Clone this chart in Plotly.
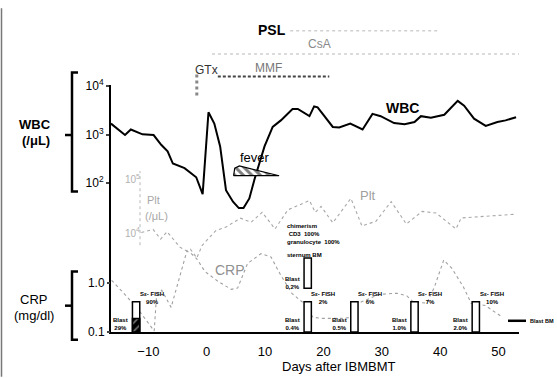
import plotly.graph_objects as go

# ---------------- data ----------------
wbc_days = [-16.4, -14.0, -13.0, -11.0, -9.1, -7.8, -6.7, -5.8, -3.8, -1.8, -0.7, 0.3, 1.3, 2.3, 3.3,
            4.5, 5.5, 6.3, 7.3, 8.2, 9.9, 11.3, 12.7, 14.7, 15.6, 17.6, 18.4, 19.0, 21.6, 22.7, 24.6,
            26.7, 28.4, 29.8, 32.1, 33.9, 35.6, 36.7, 38.4, 40.7, 43.0, 44.1, 45.8, 47.8, 49.8, 51.2, 53.0]
wbc_vals = [1675, 977, 1270, 1010, 977, 617, 453, 254, 204, 133, 60, 2860, 1675, 570, 72,
            42, 31, 31, 49, 123, 570, 1430, 1950, 3340, 3340, 2380, 3770, 3600, 1430, 1390, 1675,
            1270, 2650, 2380, 1720, 1620, 1800, 2380, 2210, 2540, 4900, 3890, 2110, 1500, 1800, 1950, 2270]

plt_days = [-11.2, -9.2, -7.9, -6.8, -4.6, -3.5, -2.8, -1.7, -0.8, 1.5, 3.3, 5.8, 7.6, 9.5, 11.7, 13.9,
            17.6, 18.6, 19.6, 21.6, 24.7, 26.6, 29.0, 31.6, 34.2, 36.9, 39.3, 42.7, 43.6, 47.4, 52.7]
plt_vals = [10200, 11700, 7700, 10600, 5420, 4640, 4980, 3400, 5820, 10970, 13000, 19000, 15900, 24500,
            11900, 27300, 40800, 24500, 31600, 15600, 44800, 13550, 16700, 39000, 14750, 25500, 23800,
            11900, 19200, 20700, 22500]

crp_days = [-16.3, -13.6, -11.4, -9.0, -8.6, -7.7, -6.1, -4.1, -3.4, -2.6, -1.7, -0.3, 1.9, 4.2, 5.3,
            7.0, 9.3, 11.0, 12.7, 14.6, 16.6, 18.2, 19.9, 23.3, 24.7, 25.7, 29.5, 32.6, 34.3, 35.4,
            37.7, 39.0, 40.6, 42.0, 44.0, 45.3, 47.7, 50.7]
crp_vals = [1.15, 0.52, 0.255, 0.105, 0.55, 0.72, 0.32, 2.5, 4.57, 4.0, 3.16, 1.74, 1.1, 0.75, 0.8,
            2.55, 4.04, 3.47, 1.45, 0.62, 0.39, 0.2, 0.19, 0.19, 0.2, 0.375, 0.59, 0.625, 0.55, 0.41,
            0.39, 0.83, 2.98, 2.02, 0.83, 0.39, 0.35, 0.2]

# chimerism boxes (height 100 = full box)
bar_days = [-12.1, 17.3, 25.3, 35.6, 46.1]
bar_box = [100, 100, 100, 100, 100]
fish_labels = ["90%", "2%", "6%", "7%", "10%"]
blast_labels = ["29%", "0.4%", "0.5%", "1.0%", "2.0%"]
blast_fill = [45]          # hatched part of first box
sternum_day = [17.3]
sternum_base = [145]
sternum_box = [100]
sternum_blast = "0.2%"

fever_x = [4.6, 4.8, 5.6, 12.4, 4.6]
fever_y = [143, 205, 227, 143, 143]

x_ticks = [-10, 0, 10, 20, 30, 40, 50]
gtx_day = -1.7
mmf_days = [1.9, 21.0]
csa_days = [0.9, 53.5]
psl_days = [14.3, 40.0]

# ---------------- geometry helpers ----------------
W, H = 557, 378
ML, MR, MT, MB = 111, 38, 10, 46
PW = W - ML - MR
PH = H - MT - MB
X0, X1 = -16.4, 53.5
FONT = "Arial, Liberation Sans, sans-serif"


def fx(px):
    return (px - ML) / PW


def fy(py):
    return (H - MB - py) / PH


def dx(day):
    return (day - X0) / (X1 - X0)


fig = go.Figure()

# WBC
fig.add_trace(go.Scatter(x=wbc_days, y=wbc_vals, mode="lines", xaxis="x", yaxis="y",
                         line=dict(color="black", width=2), showlegend=False))
# fever wedge
fig.add_trace(go.Scatter(x=fever_x, y=fever_y, mode="lines", fill="toself", xaxis="x", yaxis="y",
                         fillcolor="white", line=dict(color="black", width=1.2),
                         fillpattern=dict(shape="\\", fgcolor="black", bgcolor="white", size=6, solidity=0.5),
                         showlegend=False))
# Plt
fig.add_trace(go.Scatter(x=plt_days, y=plt_vals, mode="lines", xaxis="x", yaxis="y3",
                         line=dict(color="#a8a8a8", width=1.1, dash="dot"), showlegend=False))
# CRP
fig.add_trace(go.Scatter(x=crp_days, y=crp_vals, mode="lines", xaxis="x", yaxis="y2",
                         line=dict(color="#a0a0a0", width=1.1, dash="dot"), showlegend=False))
# boxes
fig.add_trace(go.Bar(x=bar_days, y=bar_box, width=1.25, xaxis="x", yaxis="y4",
                     marker=dict(color="white", line=dict(color="black", width=1.5)), showlegend=False))
fig.add_trace(go.Bar(x=bar_days[:1], y=blast_fill, width=1.25, xaxis="x", yaxis="y4",
                     marker=dict(color="black", line=dict(color="black", width=1.5),
                                 pattern=dict(shape="/", fgcolor="white", bgcolor="black", size=6, solidity=0.25)),
                     showlegend=False))
fig.add_trace(go.Bar(x=sternum_day, y=sternum_box, base=sternum_base, width=1.25, xaxis="x", yaxis="y4",
                     marker=dict(color="white", line=dict(color="black", width=1.5)), showlegend=False))

ann = []


def text(x, y, s, size=12, color="black", bold=False, xref="paper", yref="paper", xanchor="center",
         yanchor="middle", align="center"):
    if bold:
        s = "<b>" + s + "</b>"
    ann.append(dict(x=x, y=y, xref=xref, yref=yref, text=s, showarrow=False, xanchor=xanchor,
                    yanchor=yanchor, align=align, font=dict(family=FONT, size=size, color=color)))


# left labels
text(fx(35), fy(119), "WBC", 13, bold=True)
text(fx(36), fy(136), "(/μL)", 13, bold=True)
text(fx(33), fy(299), "CRP", 13)
text(fx(34), fy(315), "(mg/dl)", 13)
# plt axis label
text(fx(153), fy(197), "Plt", 11, "#a8a8a8")
text(fx(156), fy(213), "(/μL)", 11, "#a8a8a8")
# inline labels
text(dx(33.6), fy(102), "WBC", 14, bold=True)
text(dx(27.6), fy(192), "Plt", 13, "#a0a0a0")
text(dx(4.0), fy(268), "CRP", 14, "#909090")
text(dx(8.3), fy(153), "fever", 13)
# treatments
text(fx(271.5), fy(22), "PSL", 14, bold=True)
text(fx(319.5), fy(36.5), "CsA", 12, "#8a8a8a")
text(fx(206), fy(63), "GTx", 12, "#333333")
text(fx(268), fy(61), "MMF", 12, "#777777")
# axis title
text(fx(338.5), fy(367), "Days after IBMBMT", 13)

# box labels
SMALL = 6
for d, f, b in zip(bar_days, fish_labels, blast_labels):
    text(d + 0.3, 113, "Sε- FISH<br>" + f, SMALL, bold=True, xref="x", yref="y4", xanchor="left")
    text(d - 1.0, 26, "Blast<br>" + b, SMALL, bold=True, xref="x", yref="y4", xanchor="right")
text(sternum_day[0] - 1.0, 163, "Blast<br>" + sternum_blast, SMALL, bold=True, xref="x", yref="y4",
     xanchor="right")
text(fx(285), fy(231), "chimerism<br> CD3  100%<br>granulocyte  100%", SMALL, bold=True,
     xanchor="left", align="left")
text(fx(285), fy(253), "sternum BM", SMALL, bold=True, xanchor="left")
text(fx(528), fy(320.5), "Blast BM", 5.5, bold=True, xanchor="left")

shapes = []


def line(x0, y0, x1, y1, color="black", width=2, dash="solid"):
    shapes.append(dict(type="line", xref="paper", yref="paper", x0=x0, y0=y0, x1=x1, y1=y1,
                       line=dict(color=color, width=width, dash=dash)))


def bracket(top, bottom, mid):
    shapes.append(dict(type="path", xref="paper", yref="paper",
                       path=f"M {fx(78)} {fy(top)} L {fx(72)} {fy(top)} L {fx(72)} {fy(bottom)} L {fx(78)} {fy(bottom)}",
                       line=dict(color="black", width=2.5)))
    line(fx(72), fy(mid), fx(65), fy(mid), width=2.5)


bracket(66, 188, 130)
bracket(270, 340, 305)
# plt axis (dotted)
line(fx(140), fy(243), fx(140), fy(167), "#b8b8b8", 1, "dot")
# treatment lines
line(dx(psl_days[0]), fy(23), dx(psl_days[1]), fy(23), "#d0d0d0", 1.5, "dot")
line(dx(csa_days[0]), fy(47), dx(csa_days[1]), fy(47), "#d0d0d0", 1.5, "dot")
line(dx(mmf_days[0]), fy(70), dx(mmf_days[1]), fy(70), "#444444", 2, "3px,2px")
line(dx(gtx_day), fy(68), dx(gtx_day), fy(91), "#888888", 3, "dot")
# blast BM arrow line
line(fx(508), fy(320.5), fx(526), fy(320.5), "black", 2.5)
# left image border
line(fx(1.5), fy(0), fx(1.5), fy(378), "#777777", 1.5)

fig.update_layout(
    width=W, height=H, margin=dict(l=ML, r=MR, t=MT, b=MB),
    paper_bgcolor="white", plot_bgcolor="rgba(0,0,0,0)",
    barmode="overlay", showlegend=False,
    font=dict(family=FONT, color="black"),
    xaxis=dict(range=[X0, X1], tickvals=x_ticks, showline=True, linewidth=2, linecolor="black",
               ticks="", showgrid=False, zeroline=False, anchor="y", tickfont=dict(size=13),
               ticklabelstandoff=6),
    yaxis=dict(type="log", range=[-1.05, 4.01], domain=[0, fy(79)], anchor="x",
               tickvals=[100, 1000, 10000],
               ticktext=["10<sup>2</sup>", "10<sup>3</sup>", "10<sup>4</sup>"],
               showline=True, linewidth=2, linecolor="black", ticks="outside", ticklen=3, tickwidth=2,
               showgrid=False, zeroline=False, tickfont=dict(size=12)),
    yaxis2=dict(type="log", range=[-1, 1.64], domain=[0, fy(200)], anchor="x",
                tickvals=[0.1, 1], ticktext=["0.1", "1.0"], showline=False, ticks="outside",
                ticklen=3, tickwidth=2, showgrid=False, zeroline=False, tickfont=dict(size=12)),
    yaxis3=dict(type="log", range=[2.1376, 5.477], domain=[0, fy(150)], anchor="free",
                position=fx(140), tickvals=[1e4, 1e5],
                ticktext=["10<sup>4</sup>", "10<sup>5</sup>"], showline=False, ticks="",
                showgrid=False, zeroline=False, tickfont=dict(size=10, color="#b0b0b0")),
    yaxis4=dict(range=[0, 264.5], domain=[0, fy(250)], anchor="x", visible=False),
    annotations=ann, shapes=shapes,
)

fig.write_html("out.html", config={"displayModeBar": False},
               post_script="document.body.style.margin='0';document.body.style.overflow='hidden';")
